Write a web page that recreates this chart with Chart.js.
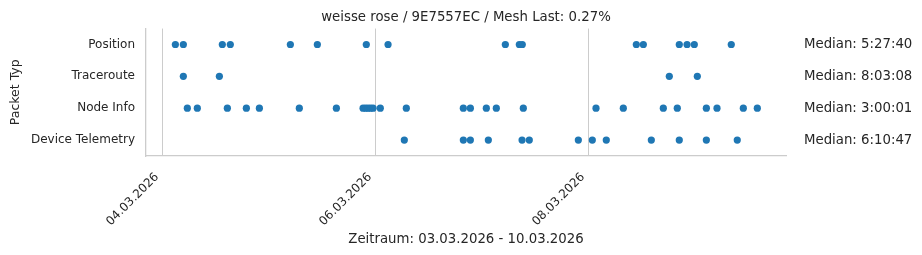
<!DOCTYPE html>
<html>
<head>
<meta charset="utf-8">
<script src="https://cdn.jsdelivr.net/npm/chart.js@4/dist/chart.umd.min.js"></script>
<style>
  html, body { margin: 0; padding: 0; background: #fff; }
  #wrap { width: 922px; height: 255px; }
</style>
</head>
<body>
<div id="wrap"><canvas id="chart"></canvas></div>
<script>
// Kategorien (oben nach unten) und Median-Texte rechts
var categories = ['Position', 'Traceroute', 'Node Info', 'Device Telemetry'];
var medians = ['Median: 5:27:40', 'Median: 8:03:08', 'Median: 3:00:01', 'Median: 6:10:47'];

// Zeitpunkte pro Packet Typ
var positionTimes = [
  '04.03.2026 03:00', '04.03.2026 04:48', '04.03.2026 13:35', '04.03.2026 15:23',
  '05.03.2026 04:55', '05.03.2026 11:00', '05.03.2026 22:02', '06.03.2026 02:56',
  '07.03.2026 05:22', '07.03.2026 08:31', '07.03.2026 09:11', '08.03.2026 10:53',
  '08.03.2026 12:28', '08.03.2026 20:34', '08.03.2026 22:19', '08.03.2026 23:57',
  '09.03.2026 08:17'
];
var tracerouteTimes = [
  '04.03.2026 04:48', '04.03.2026 12:55', '08.03.2026 18:19', '09.03.2026 00:38'
];
var nodeInfoTimes = [
  '04.03.2026 05:42', '04.03.2026 07:57', '04.03.2026 14:43', '04.03.2026 19:00',
  '04.03.2026 21:56', '05.03.2026 06:56', '05.03.2026 15:17', '05.03.2026 21:18',
  '05.03.2026 21:52', '05.03.2026 22:25', '05.03.2026 22:59', '05.03.2026 23:33',
  '06.03.2026 01:11', '06.03.2026 07:03', '06.03.2026 19:54', '06.03.2026 21:29',
  '07.03.2026 01:05', '07.03.2026 03:20', '07.03.2026 09:25', '08.03.2026 01:48',
  '08.03.2026 07:57', '08.03.2026 16:58', '08.03.2026 20:07', '09.03.2026 02:40',
  '09.03.2026 05:04', '09.03.2026 11:00', '09.03.2026 14:09'
];
var telemetryTimes = [
  '06.03.2026 06:36', '06.03.2026 19:54', '06.03.2026 21:29', '07.03.2026 01:32',
  '07.03.2026 09:08', '07.03.2026 10:46', '07.03.2026 21:49', '08.03.2026 00:58',
  '08.03.2026 04:07', '08.03.2026 14:16', '08.03.2026 20:34', '09.03.2026 02:40',
  '09.03.2026 09:38'
];

// x-Achse
var tickLabels = ['04.03.2026', '06.03.2026', '08.03.2026'];
var xMin = '03.03.2026 20:23';
var xMax = '09.03.2026 20:37';

var textColor = '#262626';
var lineColor = '#cccccc';
var dotColor = '#1f77b4';

// "dd.mm.yyyy hh:mm" -> ms (UTC, damit keine Zeitzone reinspielt)
function toMs(s) {
  var p = s.split(' ');
  var d = p[0].split('.');
  var t = (p[1] || '00:00').split(':');
  return Date.UTC(+d[2], +d[1] - 1, +d[0], +t[0], +t[1]);
}
function fmtDate(ms) {
  var d = new Date(ms);
  var dd = ('0' + d.getUTCDate()).slice(-2);
  var mm = ('0' + (d.getUTCMonth() + 1)).slice(-2);
  return dd + '.' + mm + '.' + d.getUTCFullYear();
}

var allTimes = [positionTimes, tracerouteTimes, nodeInfoTimes, telemetryTimes];
var points = [];
for (var i = 0; i < categories.length; i++) {
  allTimes[i].forEach(function (s) {
    points.push({ x: toMs(s), y: categories[i] });
  });
}

var tickValues = tickLabels.map(function (l) { return toMs(l); });

Chart.defaults.font.family = '"DejaVu Sans", sans-serif';
Chart.defaults.color = textColor;

new Chart(document.getElementById('chart'), {
  type: 'scatter',
  data: {
    datasets: [{
      data: points,
      backgroundColor: dotColor,
      borderColor: dotColor,
      borderWidth: 0,
      pointRadius: 3.6,
      yAxisID: 'y'
    }]
  },
  options: {
    responsive: true,
    maintainAspectRatio: false,
    animation: false,
    layout: { padding: 0 },
    plugins: {
      legend: { display: false },
      tooltip: { enabled: false },
      title: {
        display: true,
        fullSize: false,
        text: 'weisse rose / 9E7557EC / Mesh Last: 0.27%',
        color: textColor,
        font: { size: 13.3, weight: 'normal' },
        padding: { top: 10, bottom: 2.6 }
      }
    },
    scales: {
      x: {
        type: 'linear',
        min: toMs(xMin),
        max: toMs(xMax),
        afterBuildTicks: function (scale) {
          scale.ticks = tickValues.map(function (v) { return { value: v }; });
        },
        afterFit: function (scale) { scale.height = 99; },
        ticks: {
          autoSkip: false,
          minRotation: 45,
          maxRotation: 45,
          padding: 14,
          labelOffset: -5,
          color: textColor,
          font: { size: 12 },
          callback: function (v) { return fmtDate(v); }
        },
        grid: { color: lineColor, lineWidth: 1, drawTicks: false },
        border: { display: true, color: lineColor, width: 1.3 },
        title: {
          display: true,
          text: 'Zeitraum: 03.03.2026 - 10.03.2026',
          color: textColor,
          font: { size: 13.3 },
          padding: { top: 0, bottom: 7 }
        }
      },
      y: {
        type: 'category',
        labels: categories,
        offset: true,
        position: 'left',
        afterFit: function (scale) { scale.width = 146; },
        ticks: { padding: 11, color: textColor, font: { size: 12 } },
        grid: { display: false, drawTicks: false },
        border: { display: true, color: lineColor, width: 1.3 },
        title: {
          display: true,
          text: 'Packet Typ',
          color: textColor,
          font: { size: 12.5 },
          padding: { top: 8, bottom: 0 }
        }
      },
      y2: {
        type: 'category',
        labels: medians,
        offset: true,
        position: 'right',
        afterFit: function (scale) { scale.width = 136; },
        ticks: { padding: 18, color: textColor, font: { size: 13.3 } },
        grid: { display: false, drawTicks: false },
        border: { display: false }
      }
    }
  }
});
</script>
</body>
</html>
